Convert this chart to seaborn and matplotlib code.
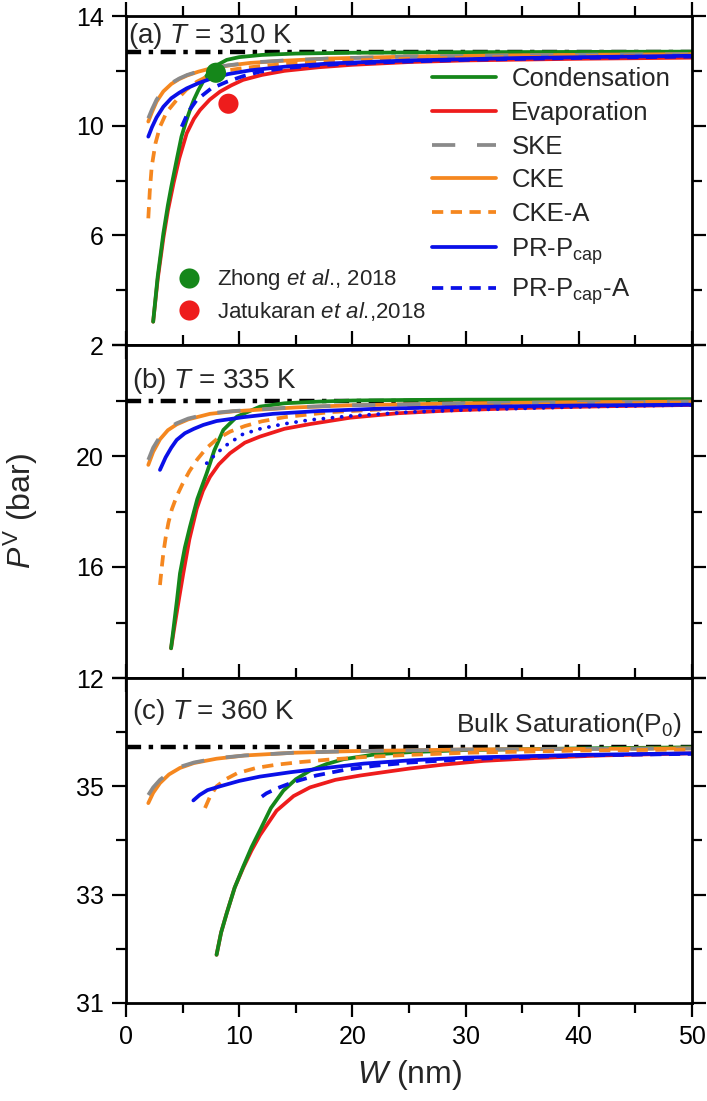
import numpy as np
import pandas as pd
import matplotlib
matplotlib.use("Agg")
import matplotlib.pyplot as plt
import seaborn as sns
from matplotlib.ticker import MultipleLocator, FixedLocator, FixedFormatter
from matplotlib.lines import Line2D

# ---------------- data ----------------
series_names = ["Condensation", "Evaporation", "SKE", "CKE", "CKE-A",
                "PR-P$_{\\mathrm{cap}}$", "PR-P$_{\\mathrm{cap}}$-A"]
panel_labels = ["(a) $T$ = 310 K", "(b) $T$ = 335 K", "(c) $T$ = 360 K"]
bulk_P0 = [12.7, 22.0, 35.73]

# (a) T = 310 K
a_cond_W = [2.4, 2.8, 3.3, 3.7, 4.0, 4.5, 4.9, 5.3, 5.65, 6.0, 6.4, 7.0, 7.4, 8.0, 8.9, 10, 12, 15, 20, 30, 40, 50]
a_cond_P = [2.85, 4.5, 6.07, 7.1, 7.77, 8.8, 9.6, 10.15, 10.57, 10.95, 11.3, 11.75, 12.0, 12.2, 12.4, 12.5, 12.58, 12.63, 12.66, 12.68, 12.69, 12.7]
a_evap_W = [2.4, 2.8, 3.3, 3.7, 4.2, 4.7, 5.36, 6.0, 6.54, 7.4, 8.3, 9.3, 10.34, 12, 14, 17, 20, 25, 30, 40, 50]
a_evap_P = [2.85, 4.4, 5.9, 6.9, 7.9, 8.8, 9.72, 10.25, 10.57, 10.95, 11.24, 11.47, 11.67, 11.85, 12.0, 12.13, 12.22, 12.32, 12.38, 12.44, 12.48]
a_ske_W = [1.97, 2.3, 2.7, 3.3, 4.0, 4.7, 5.4, 6.4, 7.4, 9, 11, 14, 18, 25, 35, 50]
a_ske_P = [10.27, 10.6, 10.95, 11.3, 11.55, 11.72, 11.85, 11.98, 12.09, 12.2, 12.3, 12.38, 12.45, 12.52, 12.57, 12.61]
a_cke_W = [1.97, 2.3, 2.7, 3.3, 4.0, 4.7, 5.4, 6.4, 7.4, 9, 11, 14, 18, 25, 35, 50]
a_cke_P = [10.15, 10.5, 10.88, 11.25, 11.52, 11.7, 11.83, 11.97, 12.08, 12.19, 12.29, 12.37, 12.45, 12.52, 12.57, 12.61]
a_ckea_W = [1.97, 2.1, 2.27, 2.6, 3.0, 3.6, 4.48, 5.3, 6.25, 7.2, 8.3, 10, 12, 15, 20, 25, 30, 40, 50]
a_ckea_P = [6.62, 7.6, 8.5, 9.35, 9.96, 10.5, 10.94, 11.3, 11.6, 11.8, 11.97, 12.08, 12.18, 12.28, 12.38, 12.44, 12.48, 12.53, 12.57]
a_pr_W = [1.97, 2.3, 2.7, 3.3, 4.0, 4.7, 5.36, 6.4, 7.4, 9, 11, 14, 18, 25, 35, 50]
a_pr_P = [9.6, 9.95, 10.3, 10.69, 11.0, 11.2, 11.36, 11.55, 11.7, 11.88, 12.02, 12.15, 12.27, 12.38, 12.47, 12.55]
a_pra_W = [4.92, 5.5, 6.25, 7.5, 8.9, 10.3, 11.84, 14, 17, 20, 25, 30, 40, 50]
a_pra_P = [9.96, 10.5, 10.94, 11.35, 11.6, 11.8, 11.97, 12.1, 12.2, 12.27, 12.34, 12.4, 12.47, 12.52]

# (b) T = 335 K
b_cond_W = [3.98, 4.2, 4.5, 4.77, 5.2, 5.65, 6.3, 7.13, 7.8, 8.6, 9.8, 11.84, 14, 17, 20, 25, 30, 40, 50]
b_cond_P = [13.07, 13.8, 14.8, 15.77, 16.7, 17.45, 18.45, 19.38, 20.2, 20.94, 21.42, 21.78, 21.9, 21.96, 22.0, 22.02, 22.03, 22.04, 22.05]
b_evap_W = [3.98, 4.3, 4.7, 5.06, 5.6, 6.25, 6.8, 7.42, 8.2, 9.19, 10.5, 11.84, 14, 16.25, 19.8, 24, 28.6, 35, 42, 50]
b_evap_P = [13.07, 13.9, 14.9, 15.77, 17.0, 18.1, 18.75, 19.25, 19.7, 20.1, 20.48, 20.7, 20.98, 21.15, 21.38, 21.54, 21.64, 21.73, 21.79, 21.84]
b_ske_W = [1.97, 2.4, 3.0, 3.7, 4.48, 5.5, 7.42, 9.5, 11.84, 15, 20, 30, 40, 50]
b_ske_P = [19.86, 20.3, 20.7, 21.0, 21.18, 21.35, 21.54, 21.62, 21.68, 21.76, 21.83, 21.9, 21.94, 21.96]
b_cke_W = [1.97, 2.4, 3.0, 3.7, 4.48, 5.5, 7.42, 9.5, 11.84, 15, 20, 30, 40, 50]
b_cke_P = [19.68, 20.15, 20.6, 20.93, 21.14, 21.32, 21.52, 21.61, 21.67, 21.75, 21.83, 21.9, 21.94, 21.96]
b_ckea_W = [3.0, 3.15, 3.3, 3.5, 3.75, 4.05, 4.48, 5.0, 5.6, 6.3, 7.1, 8.0, 9.2, 10.5, 12, 14, 18, 25, 35, 50]
b_ckea_P = [15.35, 15.95, 16.5, 17.05, 17.6, 18.08, 18.55, 19.0, 19.45, 19.88, 20.28, 20.6, 20.88, 21.08, 21.25, 21.4, 21.58, 21.73, 21.85, 21.93]
b_pr_W = [3.0, 3.5, 4.0, 4.48, 5.2, 6.0, 6.83, 8.0, 10.36, 13, 17, 22, 30, 40, 50]
b_pr_P = [19.5, 19.95, 20.3, 20.58, 20.82, 20.98, 21.12, 21.26, 21.4, 21.52, 21.62, 21.7, 21.77, 21.82, 21.85]
b_pra_W = [7.13, 8.0, 8.9, 10.3, 11.84, 14, 16.25, 20, 25, 30, 40, 50]
b_pra_P = [19.74, 20.1, 20.4, 20.78, 20.98, 21.16, 21.3, 21.45, 21.58, 21.66, 21.77, 21.84]

# (c) T = 360 K
c_cond_W = [8.0, 8.4, 8.9, 9.6, 10.36, 11.1, 11.84, 12.8, 13.9, 15, 16.25, 17.7, 19.2, 22, 25, 30, 40, 50]
c_cond_P = [31.89, 32.3, 32.66, 33.13, 33.52, 33.88, 34.19, 34.6, 34.92, 35.13, 35.29, 35.41, 35.5, 35.59, 35.63, 35.67, 35.7, 35.72]
c_evap_W = [8.0, 8.4, 8.9, 9.6, 10.36, 11.1, 11.84, 13.3, 14.8, 16.25, 18.5, 20.7, 22.7, 25.1, 28, 31.6, 36, 42, 50]
c_evap_P = [31.89, 32.3, 32.66, 33.13, 33.5, 33.82, 34.1, 34.55, 34.82, 34.98, 35.12, 35.2, 35.26, 35.33, 35.4, 35.47, 35.52, 35.57, 35.61]
c_ske_W = [1.97, 2.4, 3.0, 3.8, 4.77, 6.0, 8.0, 10.5, 14.8, 20, 30, 40, 50]
c_ske_P = [34.84, 34.98, 35.12, 35.25, 35.36, 35.44, 35.52, 35.57, 35.62, 35.65, 35.68, 35.69, 35.7]
c_cke_W = [1.97, 2.4, 3.0, 3.8, 4.77, 6.0, 8.0, 10.5, 14.8, 20, 30, 40, 50]
c_cke_P = [34.69, 34.88, 35.06, 35.22, 35.34, 35.43, 35.51, 35.57, 35.62, 35.65, 35.68, 35.69, 35.7]
c_ckea_W = [6.98, 7.4, 8.0, 8.8, 9.8, 11.5, 13.3, 15.5, 17.7, 21, 25, 30, 40, 50]
c_ckea_P = [34.6, 34.8, 35.0, 35.13, 35.24, 35.34, 35.4, 35.45, 35.49, 35.54, 35.58, 35.62, 35.66, 35.68]
c_pr_W = [5.95, 6.5, 7.2, 8.3, 10, 11.84, 14.5, 17.7, 21, 25.1, 30, 40, 50]
c_pr_P = [34.74, 34.84, 34.93, 35.0, 35.1, 35.18, 35.26, 35.34, 35.42, 35.48, 35.53, 35.58, 35.61]
c_pra_W = [12.0, 12.4, 13.3, 14.8, 16.8, 19.2, 22, 25.1, 30, 35, 40, 50]
c_pra_P = [34.81, 34.87, 34.96, 35.08, 35.2, 35.3, 35.38, 35.44, 35.5, 35.54, 35.57, 35.6]

# experimental points (panel a)
exp_labels = ["Zhong $\\mathit{et\\ al}$., 2018", "Jatukaran $\\mathit{et\\ al}$.,2018"]
exp_W = [7.95, 9.05]
exp_P = [11.93, 10.8]

# ---------------- styling ----------------
sns.set_theme(style="ticks")
plt.rcParams['font.family'] = ['Liberation Sans', 'DejaVu Sans']
plt.rcParams['mathtext.fontset'] = 'custom'
plt.rcParams['mathtext.rm'] = 'Liberation Sans'
plt.rcParams['mathtext.it'] = 'Liberation Sans:italic'
plt.rcParams['mathtext.bf'] = 'Liberation Sans:bold'

GREEN = "#15871a"
RED = "#ee1c1c"
GRAY = "#8a8a8a"
ORANGE = "#f5871f"
BLUE = "#0a10e8"
LW = 2.7

short_dash = (0, (3.0, 2.0))
style_map = {
    "Condensation": dict(color=GREEN, linestyle="-"),
    "Evaporation": dict(color=RED, linestyle="-"),
    "SKE": dict(color=GRAY, linestyle=(0, (6.2, 5.8))),
    "CKE": dict(color=ORANGE, linestyle="-"),
    "CKE-A": dict(color=ORANGE, linestyle=short_dash),
    series_names[5]: dict(color=BLUE, linestyle="-"),
    series_names[6]: dict(color=BLUE, linestyle=short_dash),
}
draw_order = ["Evaporation", "Condensation", "CKE", "SKE", "CKE-A",
              series_names[5], series_names[6]]

panels = [
    {"Condensation": (a_cond_W, a_cond_P), "Evaporation": (a_evap_W, a_evap_P),
     "SKE": (a_ske_W, a_ske_P), "CKE": (a_cke_W, a_cke_P), "CKE-A": (a_ckea_W, a_ckea_P),
     series_names[5]: (a_pr_W, a_pr_P), series_names[6]: (a_pra_W, a_pra_P)},
    {"Condensation": (b_cond_W, b_cond_P), "Evaporation": (b_evap_W, b_evap_P),
     "SKE": (b_ske_W, b_ske_P), "CKE": (b_cke_W, b_cke_P), "CKE-A": (b_ckea_W, b_ckea_P),
     series_names[5]: (b_pr_W, b_pr_P), series_names[6]: (b_pra_W, b_pra_P)},
    {"Condensation": (c_cond_W, c_cond_P), "Evaporation": (c_evap_W, c_evap_P),
     "SKE": (c_ske_W, c_ske_P), "CKE": (c_cke_W, c_cke_P), "CKE-A": (c_ckea_W, c_ckea_P),
     series_names[5]: (c_pr_W, c_pr_P), series_names[6]: (c_pra_W, c_pra_P)},
]

fig = plt.figure(figsize=(7.07, 11.01), dpi=100)
L, R = 126 / 707, 692 / 707
H = 1101.0
boxes = [(16, 345), (345, 678), (678, 1003)]
ylims = [(2, 14), (12, 24), (31, 37)]
ymaj = [[2, 6, 10, 14], [12, 16, 20, 24], [31, 33, 35, 37]]
ylab = [["2", "6", "10", "14"], ["12", "16", "20", ""], ["31", "33", "35", ""]]
yminor = [2, 2, 1]
text_y = [0.939, 0.892, 0.895]
text_x = [0.004, 0.011, 0.011]

axes = []
for i, (t, b) in enumerate(boxes):
    ax = fig.add_axes([L, 1 - b / H, R - L, (b - t) / H])
    axes.append(ax)
    ax.axhline(bulk_P0[i], color="black", lw=3.2,
               linestyle=(0, (3.4, 1.7, 1.0, 1.7)), zorder=1)
    for name in draw_order:
        W, P = panels[i][name]
        st = dict(style_map[name])
        dotted = (i == 1 and name == series_names[6])
        if dotted:
            st["linestyle"] = (0, (0.05, 2.4))
        sns.lineplot(x=W, y=P, ax=ax, sort=False, estimator=None,
                     lw=LW, zorder=2, dash_capstyle="round" if dotted else "butt",
                     **st)
    ax.set_xlim(0, 50)
    ax.set_ylim(*ylims[i])
    ax.xaxis.set_major_locator(MultipleLocator(10))
    ax.xaxis.set_minor_locator(MultipleLocator(5))
    ax.yaxis.set_major_locator(FixedLocator(ymaj[i]))
    ax.yaxis.set_major_formatter(FixedFormatter(ylab[i]))
    ax.yaxis.set_minor_locator(MultipleLocator(yminor[i]))
    ax.tick_params(which="both", direction="out", top=True, right=True,
                   width=1.6, labelsize=18, color="black", labelcolor="black")
    ax.tick_params(which="major", length=10, pad=6)
    ax.tick_params(which="minor", length=7)
    if i < 2:
        ax.tick_params(labelbottom=False)
    for sp in ax.spines.values():
        sp.set_linewidth(2.0)
        sp.set_color("black")
    ax.text(text_x[i], text_y[i], panel_labels[i], transform=ax.transAxes,
            fontsize=20, ha="left", va="center")
    ax.set_xlabel("")
    ax.set_ylabel("")

# experimental points
axA = axes[0]
exp_colors = [GREEN, RED]
for k in range(2):
    sns.scatterplot(x=[exp_W[k]], y=[exp_P[k]], ax=axA, color=exp_colors[k],
                    s=210, edgecolor="none", zorder=5)

# legends
handles = [Line2D([], [], lw=LW, **style_map[n]) for n in series_names]
leg1 = axA.legend(handles, series_names, loc="upper left", bbox_to_anchor=(0.541, 0.845),
                  frameon=False, fontsize=18.5, handlelength=2.5, handletextpad=0.58,
                  labelspacing=0.38, borderpad=0, borderaxespad=0)
axA.add_artist(leg1)
mh = [Line2D([], [], ls="none", marker="o", markersize=14.5, color=c, markeredgewidth=0)
      for c in exp_colors]
axA.legend(mh, exp_labels, loc="upper left", bbox_to_anchor=(0.092, 0.236),
           frameon=False, fontsize=16, handlelength=1.0, handletextpad=0.75,
           labelspacing=0.35, borderpad=0, borderaxespad=0)

axes[2].text(0.982, 0.855, "Bulk Saturation(P$_{0}$)", transform=axes[2].transAxes,
             fontsize=19, ha="right", va="center")

axes[1].set_ylabel("$P^{\\mathrm{V}}$ (bar)", fontsize=23)
axes[1].yaxis.set_label_coords((40 - 126) / 566, 0.5)
axes[2].set_xlabel("$W$ (nm)", fontsize=23, va="center")
axes[2].xaxis.set_label_coords(0.5, -(1075 - 1003) / 325)

fig.savefig("out.png", dpi=100)
